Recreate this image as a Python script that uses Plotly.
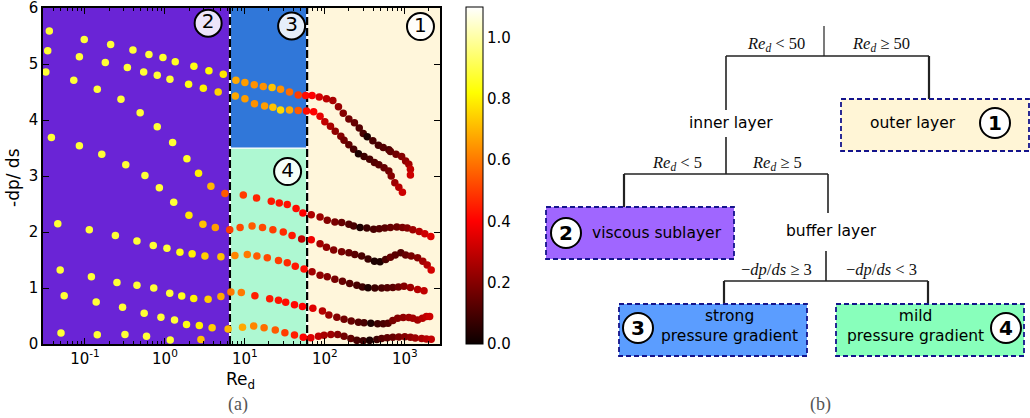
import numpy as np
import plotly.graph_objects as go

# ---------------- data ----------------
# log10(Re_d), -dp/ds, colour value for each of the eight profiles
logre_A = [-1.446, -1.009, -0.679, -0.4, -0.2, -0.025, 0.129, 0.3625, 0.55, 0.73,
           0.8875, 1.0, 1.117, 1.23, 1.34, 1.446, 1.558, 1.667, 1.76,
           1.84, 1.93, 2.02, 2.1, 2.17, 2.23, 2.3, 2.37, 2.43, 2.48,
           2.53, 2.6, 2.67, 2.73, 2.8, 2.82, 2.89, 2.96, 3.01, 3.05, 3.07, 3.07]
dpds_A = [5.59, 5.44, 5.35, 5.25, 5.17, 5.12, 5.04, 4.96, 4.88, 4.82,
          4.71, 4.67, 4.63, 4.60, 4.58, 4.55, 4.50, 4.45, 4.44,
          4.44, 4.41, 4.38, 4.35, 4.24, 4.12, 4.02, 3.95, 3.86, 3.76,
          3.70, 3.63, 3.55, 3.51, 3.47, 3.44, 3.39, 3.35, 3.27, 3.21, 3.12, 3.02]
col_A = [0.88, 0.88, 0.88, 0.88, 0.88, 0.87, 0.86, 0.84, 0.82, 0.78,
         0.68, 0.66, 0.64, 0.64, 0.72, 0.64, 0.58, 0.5, 0.42,
         0.4, 0.33, 0.29, 0.26, 0.23, 0.2, 0.17, 0.15, 0.12, 0.1,
         0.03, 0.1, 0.1, 0.12, 0.11, 0.14, 0.17, 0.2, 0.22, 0.25, 0.3, 0.32]

logre_B = [-1.466, -1.07, -0.746, -0.47, -0.266, -0.096, 0.0625, 0.296, 0.48, 0.666,
           0.88, 1.0, 1.12, 1.246, 1.35, 1.446, 1.558, 1.667, 1.77,
           1.86, 1.94, 2.0, 2.07, 2.13, 2.2, 2.24, 2.3, 2.36, 2.42, 2.49,
           2.56, 2.62, 2.675, 2.74, 2.8, 2.83, 2.875, 2.925, 2.97]
dpds_B = [5.24, 5.13, 5.03, 4.94, 4.86, 4.80, 4.73, 4.64, 4.57, 4.50,
          4.43, 4.38, 4.29, 4.25, 4.23, 4.18, 4.18, 4.17, 4.16,
          4.15, 4.07, 3.97, 3.89, 3.80, 3.71, 3.64, 3.56, 3.48, 3.40, 3.35,
          3.30, 3.24, 3.20, 3.15, 3.09, 3.00, 2.88, 2.80, 2.71]
col_B = [0.88, 0.88, 0.88, 0.88, 0.88, 0.88, 0.88, 0.84, 0.8, 0.75,
         0.68, 0.66, 0.64, 0.66, 0.72, 0.76, 0.68, 0.55, 0.42,
         0.4, 0.36, 0.3, 0.26, 0.22, 0.2, 0.17, 0.14, 0.1, 0.03, 0.08,
         0.1, 0.12, 0.13, 0.15, 0.17, 0.2, 0.24, 0.28, 0.32]

logre_C = [-1.49, -1.14, -0.846, -0.55, -0.31, -0.096, 0.096, 0.275, 0.42, 0.575, 0.75,
           0.98, 1.146, 1.33, 1.43, 1.53, 1.64, 1.725,
           1.83, 1.94, 2.03, 2.125, 2.21, 2.3, 2.36, 2.44, 2.525, 2.61,
           2.68, 2.75, 2.82, 2.9, 2.97, 3.03, 3.1, 3.18, 3.25, 3.325]
dpds_C = [4.86, 4.71, 4.55, 4.37, 4.13, 3.88, 3.60, 3.31, 3.05, 2.82, 2.69,
          2.66, 2.61, 2.55, 2.52, 2.49, 2.42, 2.34,
          2.31, 2.27, 2.21, 2.18, 2.17, 2.14, 2.11, 2.08, 2.07, 2.05,
          2.06, 2.07, 2.08, 2.09, 2.08, 2.07, 2.04, 2.01, 1.97, 1.92]
col_C = [0.88, 0.88, 0.88, 0.88, 0.88, 0.88, 0.88, 0.86, 0.8, 0.7, 0.55,
         0.5, 0.46, 0.44, 0.43, 0.43, 0.42, 0.4,
         0.27, 0.24, 0.2, 0.18, 0.15, 0.12, 0.1, 0.03, 0.08, 0.1,
         0.12, 0.13, 0.15, 0.16, 0.18, 0.2, 0.24, 0.28, 0.32, 0.35]

logre_D = [-1.42, -1.07, -0.79, -0.49, -0.25, -0.07, 0.11, 0.3, 0.475, 0.63, 0.81,
           0.94, 1.09, 1.22, 1.35, 1.48, 1.59, 1.71,
           1.83, 1.94, 2.02, 2.11, 2.21, 2.3, 2.375, 2.46, 2.54, 2.62,
           2.69, 2.76, 2.82, 2.88, 2.95, 3.01, 3.08, 3.16, 3.225, 3.28, 3.33]
dpds_D = [3.69, 3.54, 3.39, 3.20, 3.01, 2.79, 2.53, 2.30, 2.14, 2.08, 2.04,
          2.08, 2.11, 2.08, 2.04, 2.00, 1.94, 1.875,
          1.86, 1.79, 1.73, 1.68, 1.65, 1.63, 1.60, 1.57, 1.52, 1.48,
          1.47, 1.51, 1.55, 1.59, 1.63, 1.59, 1.57, 1.54, 1.48, 1.41, 1.32]
col_D = [0.88, 0.88, 0.88, 0.88, 0.88, 0.88, 0.88, 0.78, 0.72, 0.66, 0.5,
         0.52, 0.55, 0.52, 0.5, 0.47, 0.44, 0.3,
         0.38, 0.25, 0.22, 0.2, 0.18, 0.15, 0.13, 0.1, 0.08, 0.03,
         0.03, 0.1, 0.15, 0.13, 0.12, 0.15, 0.18, 0.2, 0.25, 0.28, 0.33]

logre_E = [-1.34, -0.946, -0.62, -0.35, -0.146, 0.025, 0.1875, 0.34, 0.5, 0.70,
           0.875, 1.03, 1.15, 1.28, 1.42, 1.53, 1.63, 1.74,
           1.84, 1.94, 2.03, 2.125, 2.22, 2.31, 2.40, 2.47, 2.54, 2.625,
           2.71, 2.78, 2.85, 2.92, 2.99, 3.07, 3.16, 3.24]
dpds_E = [2.15, 2.04, 1.94, 1.84, 1.76, 1.71, 1.64, 1.61, 1.57, 1.56,
          1.58, 1.60, 1.57, 1.54, 1.49, 1.45, 1.39, 1.34,
          1.29, 1.23, 1.20, 1.155, 1.12, 1.08, 1.05, 1.02, 1.005, 1.0,
          1.0, 1.005, 1.01, 1.02, 1.03, 1.01, 0.975, 0.95]
col_E = [0.88, 0.88, 0.88, 0.88, 0.88, 0.88, 0.84, 0.8, 0.74, 0.72,
         0.62, 0.6, 0.55, 0.52, 0.5, 0.47, 0.44, 0.42,
         0.25, 0.22, 0.2, 0.18, 0.15, 0.12, 0.1, 0.08, 0.03, 0.08,
         0.1, 0.12, 0.13, 0.16, 0.2, 0.24, 0.28, 0.3]

logre_F = [-1.31, -0.92, -0.6, -0.35, -0.14, 0.06, 0.21, 0.36, 0.54, 0.70,
           0.825, 0.955, 1.125, 1.31, 1.42, 1.51, 1.62, 1.72,
           1.85, 1.97, 2.05, 2.15, 2.24, 2.33, 2.42, 2.49, 2.575, 2.66,
           2.73, 2.79, 2.85, 2.91, 2.98, 3.05, 3.1, 3.16, 3.22, 3.27, 3.31]
dpds_F = [1.32, 1.20, 1.10, 1.05, 1.0, 0.905, 0.857, 0.815, 0.80, 0.85,
          0.93, 0.92, 0.86, 0.81, 0.78, 0.745, 0.70, 0.67,
          0.64, 0.59, 0.52, 0.48, 0.44, 0.41, 0.39, 0.38, 0.37, 0.36,
          0.36, 0.37, 0.42, 0.46, 0.475, 0.475, 0.46, 0.43, 0.46, 0.49, 0.49]
col_F = [0.88, 0.88, 0.88, 0.88, 0.88, 0.88, 0.85, 0.8, 0.74, 0.68,
         0.6, 0.6, 0.45, 0.44, 0.43, 0.42, 0.41, 0.4,
         0.35, 0.28, 0.24, 0.2, 0.17, 0.15, 0.12, 0.1, 0.03, 0.08,
         0.1, 0.12, 0.18, 0.2, 0.22, 0.24, 0.25, 0.25, 0.28, 0.3, 0.32]

logre_G = [-1.26, -0.86, -0.53, -0.26, -0.05, 0.12, 0.27, 0.43, 0.59, 0.79,
           0.97, 1.11, 1.24, 1.38, 1.50, 1.62, 1.73,
           1.825, 1.92, 1.99, 2.075, 2.16, 2.24, 2.325, 2.40, 2.48, 2.56,
           2.65, 2.71, 2.78, 2.85, 2.925, 3.0, 3.07, 3.13, 3.21, 3.27, 3.33]
dpds_G = [0.86, 0.75, 0.655, 0.55, 0.48, 0.43, 0.35, 0.33, 0.29, 0.27,
          0.30, 0.32, 0.29, 0.25, 0.20, 0.16, 0.12,
          0.11, 0.14, 0.155, 0.17, 0.17, 0.14, 0.10, 0.065, 0.06, 0.065,
          0.08, 0.10, 0.11, 0.12, 0.125, 0.13, 0.12, 0.107, 0.10, 0.09, 0.083]
col_G = [0.88, 0.88, 0.88, 0.88, 0.88, 0.88, 0.84, 0.8, 0.74, 0.7,
         0.68, 0.62, 0.58, 0.55, 0.5, 0.45, 0.4,
         0.35, 0.3, 0.26, 0.24, 0.2, 0.17, 0.14, 0.1, 0.08, 0.03,
         0.08, 0.12, 0.14, 0.15, 0.18, 0.2, 0.22, 0.24, 0.26, 0.28, 0.3]

logre_H = [-1.3, -0.846, -0.5, -0.23, 0.066, 0.45]
dpds_H = [0.196, 0.167, 0.17, 0.137, 0.07, 0.08]
col_H = [0.88, 0.88, 0.88, 0.88, 0.88, 0.72]

curves = [(logre_H, dpds_H, col_H), (logre_G, dpds_G, col_G), (logre_F, dpds_F, col_F),
          (logre_E, dpds_E, col_E), (logre_D, dpds_D, col_D), (logre_C, dpds_C, col_C),
          (logre_B, dpds_B, col_B), (logre_A, dpds_A, col_A)]

# regime boundaries (as drawn) and region labels
re_lo, re_hi, dpds_split = 6.5, 60.0, 3.5
region_labels = ['1', '2', '3', '4']
label_re = [1570, 3.47, 38.4, 34.2]
label_dpds = [5.67, 5.73, 5.68, 3.08]

x_ticks = [0.1, 1, 10, 100, 1000]
x_ticktext = ['10<sup>-1</sup>', '10<sup>0</sup>', '10<sup>1</sup>', '10<sup>2</sup>', '10<sup>3</sup>']
y_ticks = [0, 1, 2, 3, 4, 5, 6]
cbar_ticks = [0.0, 0.2, 0.4, 0.6, 0.8, 1.0]

HOT = [[0.0, 'rgb(11,0,0)'], [0.365, 'rgb(255,0,0)'],
       [0.746, 'rgb(255,255,0)'], [1.0, 'rgb(255,255,255)']]

W, H = 1030, 418
FONT = 'DejaVu Sans'
SERIF = 'Liberation Serif'

fig = go.Figure()
for lx, yv, cv in curves:
    fig.add_trace(go.Scatter(
        x=10 ** np.array(lx), y=yv, mode='markers', xaxis='x', yaxis='y',
        marker=dict(size=7.5, color=cv, coloraxis='coloraxis', line=dict(width=0)),
        showlegend=False, hoverinfo='skip'))

fig.add_trace(go.Scatter(
    x=label_re, y=label_dpds, mode='markers+text', text=region_labels,
    textposition='middle center', textfont=dict(family=FONT, size=20, color='black'),
    marker=dict(size=27, color='rgba(255,255,255,0.88)', line=dict(color='black', width=2)),
    showlegend=False, hoverinfo='skip', xaxis='x', yaxis='y'))

shapes = []
def rect(x0, x1, y0, y1, color):
    shapes.append(dict(type='rect', xref='x', yref='y', x0=x0, x1=x1, y0=y0, y1=y1,
                       fillcolor=color, line=dict(width=0), layer='below'))
rect(0.001, re_lo, 0, 6.5, '#6a24d6')
rect(re_lo, re_hi, dpds_split, 6.5, '#3077d9')
rect(re_lo, re_hi, 0, dpds_split, '#aef8d2')
rect(re_hi, 1e5, 0, 6.5, '#fff6db')
shapes.append(dict(type='line', xref='x', yref='y', x0=re_lo, x1=re_hi, y0=dpds_split,
                   y1=dpds_split, line=dict(color='white', width=1.2), layer='below'))
for xv in (re_lo, re_hi):
    shapes.append(dict(type='line', xref='x', yref='y', x0=xv, x1=xv, y0=0, y1=6.5,
                       line=dict(color='white', width=2), layer='below'))
    shapes.append(dict(type='line', xref='x', yref='y', x0=xv, x1=xv, y0=0, y1=6.5,
                       line=dict(color='black', width=2.2, dash='8px,3px'), layer='below'))

# ---------------- panel (b): decision tree in pixel-like coordinates ----------------
tree_lines = [
    (824, 26, 824, 56, 1.2), (726, 56, 929, 56, 1.6), (726, 56, 726, 110, 1.6),
    (726, 137, 726, 174, 1.6), (929, 56, 929, 99, 2.2), (624, 174, 828, 174, 1.6),
    (624, 174, 624, 207, 2.2), (828, 174, 828, 213, 1.6), (826, 251, 826, 281, 1.6),
    (724, 281, 928, 281, 1.6), (724, 281, 724, 304, 2.2), (928, 281, 928, 304, 2.2),
]
for x0, y0, x1, y1, w in tree_lines:
    shapes.append(dict(type='line', xref='x2', yref='y2', x0=x0, y0=y0, x1=x1, y1=y1,
                       line=dict(color='#222222', width=w)))

boxes = [
    (841, 99, 1029, 151, '#fff5d6'), (546, 207, 734, 259, '#a066ff'),
    (619, 304, 807, 356, '#5b9dff'), (836, 304, 1024, 356, '#88ffbb'),
]
for x0, y0, x1, y1, c in boxes:
    shapes.append(dict(type='rect', xref='x2', yref='y2', x0=x0, y0=y0, x1=x1, y1=y1,
                       fillcolor=c, line=dict(color='#14148c', width=1.8, dash='5px,3px')))

circles = [(995, 123, '1'), (566, 233, '2'), (638, 328, '3'), (1006, 328, '4')]
annotations = []
for cx, cy, t in circles:
    shapes.append(dict(type='circle', xref='x2', yref='y2', x0=cx - 15, x1=cx + 15,
                       y0=cy - 15, y1=cy + 15, fillcolor='white',
                       line=dict(color='black', width=2)))
    annotations.append(dict(x=cx, y=cy, xref='x2', yref='y2', text='<b>%s</b>' % t,
                            showarrow=False, xanchor='center', yanchor='middle',
                            font=dict(family=FONT, size=20, color='black')))

texts = [
    (731, 123, 'inner layer'), (913, 123, 'outer layer'), (657, 233, 'viscous sublayer'),
    (831, 231, 'buffer layer'), (729, 326, 'strong<br>pressure gradient'),
    (915, 326, 'mild<br>pressure gradient'),
]
for x, y, t in texts:
    annotations.append(dict(x=x, y=y, xref='x2', yref='y2', text=t, showarrow=False,
                            xanchor='center', yanchor='middle',
                            font=dict(family=FONT, size=15.5, color='black')))

red = '<i>Re</i><sub><i>d</i></sub>'
dp = '\u2212<i>dp</i>/<i>ds</i>'
math = [
    (776, 44, red + ' < 50'), (881, 44, red + ' \u2265 50'),
    (677, 163, red + ' < 5'), (777, 163, red + ' \u2265 5'),
    (776, 269, dp + ' \u2265 3'), (881, 269, dp + ' < 3'),
]
for x, y, t in math:
    annotations.append(dict(x=x, y=y, xref='x2', yref='y2', text=t, showarrow=False,
                            xanchor='center', yanchor='middle',
                            font=dict(family=SERIF, size=16.5, color='#111111')))

# panel captions and axis titles
annotations += [
    dict(x=238 / W, y=1 - 404 / H, xref='paper', yref='paper', text='(a)', showarrow=False,
         xanchor='center', yanchor='middle',
         font=dict(family=SERIF, size=18, color='#555555')),
    dict(x=820 / W, y=1 - 404 / H, xref='paper', yref='paper', text='(b)', showarrow=False,
         xanchor='center', yanchor='middle',
         font=dict(family=SERIF, size=18, color='#555555')),
    dict(x=240 / W, y=1 - 380 / H, xref='paper', yref='paper', text='Re<sub>d</sub>',
         xanchor='center', yanchor='middle',
         showarrow=False, font=dict(family=FONT, size=17, color='black')),
    dict(x=13 / W, y=1 - 178 / H, xref='paper', yref='paper', text='-dp/ ds', textangle=-90,
         xanchor='center', yanchor='middle',
         showarrow=False, font=dict(family=FONT, size=17, color='black')),
]

fig.update_layout(
    width=W, height=H, margin=dict(l=0, r=0, t=0, b=0, autoexpand=False),
    paper_bgcolor='white', plot_bgcolor='white', showlegend=False,
    font=dict(family=FONT, size=15, color='black'),
    xaxis=dict(type='log', range=[-1.525, 3.44], domain=[43 / W, 440 / W], anchor='y',
               showline=True, linecolor='black', linewidth=1.5, mirror='ticks',
               ticks='inside', ticklen=6, tickcolor='black', tickvals=x_ticks,
               ticktext=x_ticktext, showgrid=False, zeroline=False, automargin=False,
               tickfont=dict(family=FONT, size=15),
               minor=dict(ticks='inside', ticklen=3, tickcolor='black', dtick='D1',
                          showgrid=False)),
    yaxis=dict(range=[0, 6.002], domain=[74 / H, 410 / H], anchor='x', tickvals=y_ticks,
               showline=True, linecolor='black', linewidth=1.5, mirror='ticks',
               ticks='inside', ticklen=6, tickcolor='black', showgrid=False,
               ticklabeloverflow='allow', automargin=False,
               zeroline=False, tickfont=dict(family=FONT, size=15)),
    xaxis2=dict(domain=[0.5, 1.0], range=[515, 1030], anchor='y2', visible=False,
                fixedrange=True),
    yaxis2=dict(domain=[0.0, 1.0], range=[418, 0], anchor='x2', visible=False,
                fixedrange=True),
    coloraxis=dict(colorscale=HOT, cmin=0, cmax=1.1,
                   colorbar=dict(x=466 / W, xanchor='left', y=74 / H, yanchor='bottom',
                                 len=337 / H, lenmode='fraction', thickness=17,
                                 outlinewidth=1, outlinecolor='black', ticks='',
                                 tickvals=cbar_ticks, tickformat='.1f',
                                 tickfont=dict(family=FONT, size=15), xpad=0, ypad=0)),
    shapes=shapes, annotations=annotations,
)

# remove the browser's default 8px page margin so the figure sits at the page origin
fig.write_html('out.html', config={'displayModeBar': False},
               post_script="document.body.style.margin='0';")
